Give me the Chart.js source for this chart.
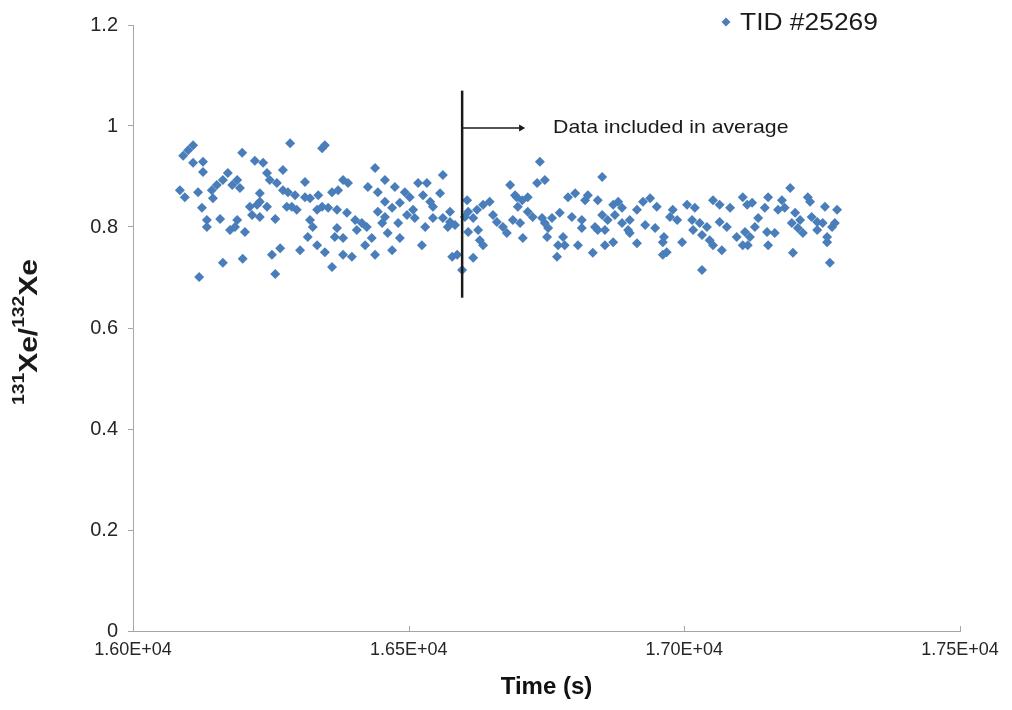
<!DOCTYPE html>
<html lang="en">
<head>
<meta charset="UTF-8">
<title>131Xe/132Xe vs time</title>
<script src="https://cdn.jsdelivr.net/npm/chart.js@4.4.1/dist/chart.umd.min.js"></script>
<style>
  html, body { margin: 0; padding: 0; background: #fff; }
  .chart-box { width: 1012px; height: 710px; position: relative; }
</style>
</head>
<body>
<div class="chart-box"><canvas id="xeChart"></canvas></div>

<script>
    // values, one line per stretch of the time axis
    const seriesName = 'TID #25269';

    const time = [
        16109,16100,16091,16127,16109,16198,16127,16221,16236,16243,16272,16172,16163,16189,16180,16152,16143,16085,16094,16118,16145,16194,16230,16248,16261,16272,16230,16225,16212,16243,16125,16216,16230,16134,16158,16134,16189,16185,16176,16203,16258,16267,16252,16163,16199,16120,16258,16279,
        16285,16348,16343,16439,16312,16381,16390,16426,16444,16457,16475,16281,16294,16312,16321,16361,16372,16336,16288,16297,16343,16334,16354,16370,16388,16457,16470,16484,16444,16457,16321,16326,16370,16403,16415,16406,16424,16452,16481,16317,16366,16381,16462,16433,16421,16484,16334,16303,16348,16381,16397,16439,16470,16361,
        16562,16517,16533,16557,16493,16502,16526,16539,16544,16508,16497,16511,16575,16562,16544,16575,16584,16571,16530,16524,16588,16579,16597,16606,16608,16602,16635,16647,16624,16617,16653,16660,16671,16684,16696,16608,16626,16629,16635,16617,16689,16678,
        16738,16851,16733,16747,16693,16706,16716,16789,16802,16825,16820,16843,16880,16871,16887,16698,16716,16725,16742,16760,16774,16796,16814,16851,16861,16874,16702,16747,16753,16814,16838,16843,16856,16887,16898,16707,16751,16780,16771,16783,16807,16856,16871,16769,16834,
        16938,16925,16950,16914,16979,16974,17005,17019,17052,17064,17083,17106,17114,16901,16929,16947,16987,17014,17028,17041,17064,17077,16901,16914,16963,16961,16996,17016,17032,17046,17052,17095,17106,17068,16961,16968,17032,
        17192,17152,17224,17123,17177,17182,17228,17146,17170,17255,17277,17134,17128,17201,17210,17231,17241,17195,17251,17268,17273,17110,17119,17150,17164,17206,17215,17241,17259,17259,17115,17152,17197,17264
    ];

    const ratio = [
        .962,.952,.941,.929,.927,.947,.909,.931,.927,.907,.913,.907,.893,.893,.883,.883,.873,.873,.859,.869,.857,.877,.867,.893,.887,.873,.850,.844,.840,.840,.838,.824,.820,.814,.816,.800,.814,.800,.794,.790,.816,.758,.745,.729,.737,.701,.707,.840,
        .966,.962,.956,.917,.889,.893,.887,.879,.869,.893,.879,.869,.863,.859,.857,.869,.873,.863,.840,.834,.840,.834,.838,.834,.828,.850,.838,.848,.830,.820,.814,.800,.798,.814,.808,.794,.800,.808,.808,.780,.780,.778,.788,.778,.764,.778,.764,.754,.750,.745,.741,.745,.754,.721,
        .903,.887,.887,.867,.869,.859,.863,.850,.840,.834,.824,.818,.830,.818,.818,.810,.804,.800,.800,.764,.745,.741,.715,.853,.830,.820,.844,.850,.834,.818,.824,.810,.800,.883,.859,.790,.794,.774,.764,.739,.814,.788,
        .929,.899,.887,.893,.863,.853,.859,.859,.867,.863,.853,.853,.850,.844,.838,.840,.830,.820,.818,.818,.828,.820,.814,.824,.814,.824,.808,.808,.798,.798,.800,.794,.794,.808,.794,.778,.780,.780,.764,.764,.764,.764,.770,.741,.749,
        .857,.850,.840,.834,.834,.820,.844,.838,.853,.844,.838,.859,.844,.814,.804,.798,.814,.814,.808,.800,.810,.800,.788,.768,.780,.770,.770,.794,.784,.774,.764,.780,.764,.754,.745,.750,.715,
        .877,.859,.859,.848,.853,.838,.850,.838,.834,.840,.834,.818,.800,.828,.814,.820,.810,.808,.808,.800,.808,.790,.780,.790,.788,.798,.788,.794,.780,.770,.764,.764,.749,.729
    ];

    const xTicks = [16000, 16500, 17000, 17500];
    const yTicks = [0, 0.2, 0.4, 0.6, 0.8, 1, 1.2];

    // cut-off marker and its note
    const cutoffTime = 16597;
    const cutoffRange = [0.66, 1.07];
    const arrowLevel = 0.996;
    const arrowEnd = 16704;
    const noteTime = 16762;
    const noteText = 'Data included in average';

    const blue = '#4a7ebb';
    const axisGrey = '#a6a6a6';
    const fontFamily = '"Liberation Sans", Arial, sans-serif';

    function sciLabel(v) {
        const e = Math.floor(Math.log10(v));
        const m = v / Math.pow(10, e);
        return m.toFixed(2) + 'E+' + String(e).padStart(2, '0');
    }

    // text in the source picture is slightly stretched along its run
    function wideText(ctx, text, x, y, stretch) {
        ctx.save();
        ctx.translate(x, y);
        ctx.scale(stretch, 1);
        ctx.fillText(text, 0, 0);
        ctx.restore();
    }

    // extra drawing: y title with superscripts, legend, note text, inward x ticks
    const decorations = {
        id: 'decorations',
        afterDraw(chart) {
            const ctx = chart.ctx;
            const area = chart.chartArea;
            const xs = chart.scales.x;
            const ys = chart.scales.y;
            ctx.save();

            // small ticks pointing up from the time axis
            ctx.strokeStyle = axisGrey;
            ctx.lineWidth = 1;
            xTicks.forEach(t => {
                const px = Math.round(xs.getPixelForValue(t)) + 0.5;
                ctx.beginPath();
                ctx.moveTo(px, area.bottom);
                ctx.lineTo(px, area.bottom - 5);
                ctx.stroke();
            });

            // note beside the arrow
            ctx.fillStyle = '#1a1a1a';
            ctx.font = '19px ' + fontFamily;
            ctx.textBaseline = 'middle';
            ctx.textAlign = 'left';
            wideText(ctx, noteText, xs.getPixelForValue(noteTime), ys.getPixelForValue(arrowLevel), 1.12);

            // legend
            const lx = 726, ly = 22;
            ctx.fillStyle = blue;
            ctx.beginPath();
            ctx.moveTo(lx, ly - 4.5);
            ctx.lineTo(lx + 4.5, ly);
            ctx.lineTo(lx, ly + 4.5);
            ctx.lineTo(lx - 4.5, ly);
            ctx.closePath();
            ctx.fill();
            ctx.fillStyle = '#1a1a1a';
            ctx.font = '24px ' + fontFamily;
            wideText(ctx, seriesName, 740, ly + 1, 1.1);

            // y axis title 131Xe/132Xe
            const parts = [
                { t: '131', sup: true },
                { t: 'Xe/', sup: false },
                { t: '132', sup: true },
                { t: 'Xe', sup: false }
            ];
            const bigFont = 'bold 25px ' + fontFamily;
            const supFont = 'bold 16px ' + fontFamily;
            let total = 0;
            parts.forEach(p => {
                ctx.font = p.sup ? supFont : bigFont;
                p.w = ctx.measureText(p.t).width;
                total += p.w;
            });
            ctx.translate(37, 332);
            ctx.rotate(-Math.PI / 2);
            ctx.scale(1.2, 1);
            ctx.textBaseline = 'alphabetic';
            let cx = -total / 2;
            parts.forEach(p => {
                ctx.font = p.sup ? supFont : bigFont;
                ctx.fillText(p.t, cx, p.sup ? -13 : 0);
                cx += p.w;
            });

            ctx.restore();
        }
    };

    const ctx = document.getElementById('xeChart');
    const xeChart = new Chart(ctx, {
        type: 'scatter',
        data: {
            datasets: [
                {
                    type: 'line',
                    data: cutoffRange.map(v => ({ x: cutoffTime, y: v })),
                    borderColor: '#1a1a1a',
                    borderWidth: 2.5,
                    pointRadius: 0,
                    order: 0
                },
                {
                    type: 'line',
                    data: [{ x: cutoffTime, y: arrowLevel }, { x: arrowEnd, y: arrowLevel }],
                    borderColor: '#1a1a1a',
                    borderWidth: 1.5,
                    pointRadius: [0, 4],
                    pointStyle: 'triangle',
                    rotation: 90,
                    pointBackgroundColor: '#1a1a1a',
                    pointBorderWidth: 0,
                    order: 0
                },
                {
                    label: seriesName,
                    data: time.map((t, i) => ({ x: t, y: ratio[i] })),
                    pointStyle: 'rectRot',
                    pointRadius: 5,
                    pointBackgroundColor: blue,
                    pointBorderColor: blue,
                    pointBorderWidth: 0,
                    order: 1
                }
            ]
        },
        options: {
            responsive: true,
            maintainAspectRatio: false,
            animation: false,
            layout: { padding: { top: 25, right: 52, left: 0, bottom: 0 } },
            plugins: {
                legend: { display: false },
                tooltip: { enabled: false }
            },
            scales: {
                x: {
                    type: 'linear',
                    min: 16000,
                    max: 17500,
                    afterBuildTicks: s => { s.ticks = xTicks.map(v => ({ value: v })); },
                    afterFit: s => { s.height = 79; },
                    grid: { drawOnChartArea: false, drawTicks: false },
                    border: { color: axisGrey, width: 1 },
                    ticks: {
                        padding: 8,
                        maxRotation: 0,
                        color: '#262626',
                        font: { family: fontFamily, size: 18 },
                        callback: v => sciLabel(v)
                    },
                    title: {
                        display: true,
                        text: 'Time (s)',
                        color: '#111',
                        font: { family: fontFamily, size: 24, weight: 'bold' },
                        padding: { top: 0, bottom: 8 }
                    }
                },
                y: {
                    min: 0,
                    max: 1.2,
                    afterBuildTicks: s => { s.ticks = yTicks.map(v => ({ value: v })); },
                    afterFit: s => { s.width = 133; },
                    grid: { drawOnChartArea: false, drawTicks: true, tickLength: 5, color: axisGrey },
                    border: { color: axisGrey, width: 1 },
                    ticks: {
                        padding: 10,
                        color: '#262626',
                        font: { family: fontFamily, size: 20 },
                        callback: v => String(+v.toFixed(1))
                    }
                }
            }
        },
        plugins: [decorations]
    });
</script>
</body>
</html>
